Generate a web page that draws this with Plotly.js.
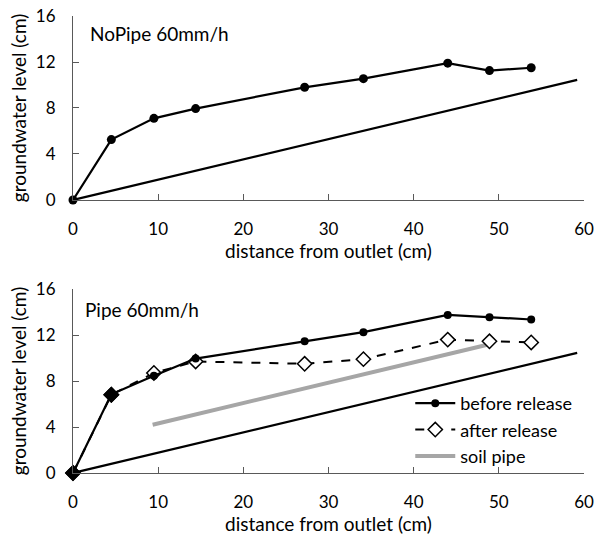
<!DOCTYPE html>
<html>
<head>
<meta charset="utf-8">
<script src="https://cdn.plot.ly/plotly-3.0.1.min.js"></script>
<style>html,body{margin:0;padding:0;background:#fff;}#chart{width:601px;height:535px;}</style>
</head>
<body>
<div id="chart"></div>
<script>
// Top panel: NoPipe 60mm/h
const distNoPipe = [0, 4.5, 9.5, 14.4, 27.2, 34.1, 44.0, 48.9, 53.8];
const levelNoPipe = [0, 5.25, 7.1, 7.95, 9.8, 10.55, 11.9, 11.25, 11.5];

// Bottom panel: Pipe 60mm/h
const distPipe = [0, 4.5, 9.5, 14.4, 27.2, 34.1, 44.0, 48.9, 53.8];
const levelBefore = [0, 6.85, 8.45, 9.95, 11.45, 12.25, 13.75, 13.55, 13.35];
const levelAfter = [0, 6.8, 8.7, 9.7, 9.5, 9.9, 11.6, 11.45, 11.35];
const filledAfterCount = 2; // first points where the after-release diamonds appear filled

// Soil pipe
const pipeX = [9.35, 48.9];
const pipeY = [4.2, 11.2];

// Bed (flume bottom)
const bedX = [0, 59.2];
const bedY = [0, 10.45];

const FONT = 'Lato, "Open Sans", sans-serif';
const axisColor = '#595959';

const traces = [
  {x: bedX, y: bedY, mode: 'lines', line: {color: '#000', width: 2.2}, showlegend: false, xaxis: 'x', yaxis: 'y', hoverinfo: 'skip'},
  {x: distNoPipe, y: levelNoPipe, mode: 'lines+markers', line: {color: '#000', width: 2.2}, cliponaxis: false,
   marker: {symbol: 'circle', size: 9, color: '#000'}, showlegend: false, xaxis: 'x', yaxis: 'y'},
  {x: bedX, y: bedY, mode: 'lines', line: {color: '#000', width: 2.2}, showlegend: false, xaxis: 'x2', yaxis: 'y2', hoverinfo: 'skip'},
  {x: pipeX, y: pipeY, mode: 'lines', name: 'soil pipe', line: {color: '#A6A6A6', width: 4}, xaxis: 'x2', yaxis: 'y2', legendrank: 3},
  {x: distPipe, y: levelAfter, mode: 'lines+markers', name: 'after release', line: {color: '#000', width: 2, dash: 'dash'},
   marker: {symbol: 'diamond', size: 11, color: '#fff', line: {color: '#000', width: 1.5}}, cliponaxis: false,
   xaxis: 'x2', yaxis: 'y2', legendrank: 2},
  {x: distPipe, y: levelBefore, mode: 'lines+markers', name: 'before release', line: {color: '#000', width: 2.2},
   marker: {symbol: 'circle', size: 8, color: '#000'}, cliponaxis: false, xaxis: 'x2', yaxis: 'y2', legendrank: 1},
  {x: distPipe.slice(0, filledAfterCount), y: levelAfter.slice(0, filledAfterCount), mode: 'markers', showlegend: false,
   cliponaxis: false, marker: {symbol: 'diamond', size: 11, color: '#000', line: {color: '#000', width: 1.5}}, xaxis: 'x2', yaxis: 'y2'}
];

function xax(anchor) {
  return {
    range: [0, 60], tickvals: [0, 10, 20, 30, 40, 50, 60], ticks: 'inside', ticklen: 6, tickcolor: axisColor,
    showline: true, linecolor: axisColor, linewidth: 1, showgrid: false, zeroline: false, anchor: anchor,
    tickfont: {family: FONT, size: 17, color: '#000'}, ticklabelstandoff: 14,
    title: {text: 'distance from outlet (cm)', font: {family: FONT, size: 19, color: '#000'}, standoff: 2}
  };
}
function yax(anchor, domain) {
  return {
    range: [0, 16], tickvals: [0, 4, 8, 12, 16], ticks: 'inside', ticklen: 6, tickcolor: axisColor,
    showline: true, linecolor: axisColor, linewidth: 1, showgrid: false, zeroline: false, anchor: anchor, domain: domain,
    tickfont: {family: FONT, size: 17, color: '#000'}, ticklabelstandoff: 13,
    title: {text: 'groundwater level (cm)', font: {family: FONT, size: 19, color: '#000'}, standoff: 4}
  };
}

const layout = {
  width: 601, height: 535,
  margin: {l: 73, r: 17, t: 16, b: 62},
  paper_bgcolor: '#fff', plot_bgcolor: '#fff',
  xaxis: xax('y'),
  yaxis: yax('x', [0.5974, 1]),
  xaxis2: xax('y2'),
  yaxis2: yax('x2', [0, 0.4026]),
  showlegend: true,
  legend: {x: 0.66, y: 0.1926, xanchor: 'left', yanchor: 'top', bgcolor: 'rgba(0,0,0,0)',
           font: {family: FONT, size: 18, color: '#000'}, tracegroupgap: 0, itemwidth: 40},
  annotations: [
    {text: 'NoPipe 60mm/h', xref: 'paper', yref: 'paper', x: 0.03, y: 0.962, xanchor: 'left', yanchor: 'middle',
     showarrow: false, font: {family: FONT, size: 19, color: '#000'}},
    {text: 'Pipe 60mm/h', xref: 'paper', yref: 'paper', x: 0.02, y: 0.357, xanchor: 'left', yanchor: 'middle',
     showarrow: false, font: {family: FONT, size: 19, color: '#000'}}
  ]
};

Plotly.newPlot('chart', traces, layout, {displayModeBar: false, staticPlot: true});
</script>
</body>
</html>
